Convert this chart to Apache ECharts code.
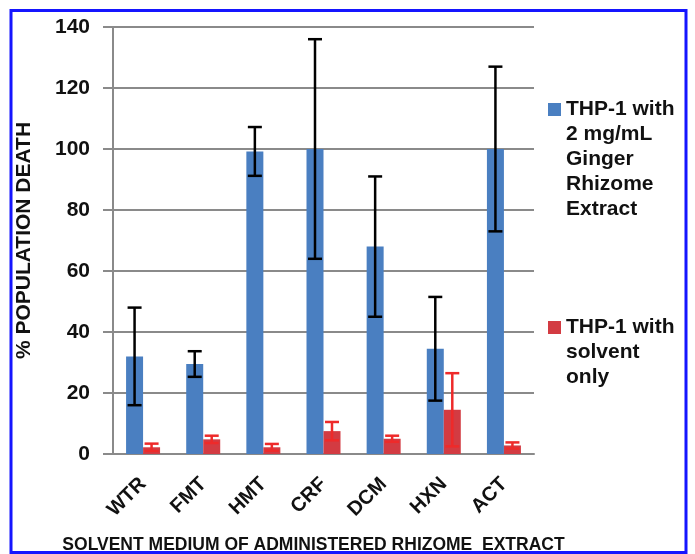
<!DOCTYPE html>
<html>
<head>
<meta charset="utf-8">
<script src="https://cdn.jsdelivr.net/npm/echarts@6/dist/echarts.min.js"></script>
<style>
  html, body { margin: 0; padding: 0; background: #fff; }
  #tu1 { width: 695px; height: 554px; }
</style>
</head>
<body>
<div id="tu1"></div>
<script>
// categories (solvent media) and values
var categories = ['WTR', 'FMT', 'HMT', 'CRF', 'DCM', 'HXN', 'ACT'];
var extractMean = [32, 29.5, 99.2, 100, 68, 34.5, 100];
var extractErr = [16, 4.2, 8, 36, 23, 17, 27];
var solventMean = [2.2, 4.8, 2.2, 7.5, 5, 14.5, 2.8];
var solventErr = [1.2, 1.2, 1.1, 3, 1, 12, 1];
var yTicks = [0, 20, 40, 60, 80, 100, 120, 140];

var nameExtract = 'THP-1 with\n2 mg/mL\nGinger\nRhizome\nExtract';
var nameSolvent = 'THP-1 with\nsolvent\nonly';

var font = 'Liberation Sans, Arial, sans-serif';
var barW = 17;

function errorBars(name, means, errs, color, shift) {
    return {
        type: 'custom',
        name: name,
        z: 10,
        silent: true,
        data: means.map(function (m, i) { return [i, m - errs[i], m + errs[i]]; }),
        encode: { x: 0, y: [1, 2] },
        renderItem: function (params, api) {
            var lo = api.coord([api.value(0), api.value(1)]);
            var hi = api.coord([api.value(0), api.value(2)]);
            var cx = lo[0] + shift;
            var half = 7;
            var st = { stroke: color, lineWidth: 2.5 };
            return {
                type: 'group',
                children: [
                    { type: 'line', shape: { x1: cx, y1: hi[1], x2: cx, y2: lo[1] }, style: st },
                    { type: 'line', shape: { x1: cx - half, y1: hi[1], x2: cx + half, y2: hi[1] }, style: st },
                    { type: 'line', shape: { x1: cx - half, y1: lo[1], x2: cx + half, y2: lo[1] }, style: st }
                ]
            };
        }
    };
}

var myChart1 = echarts.init(document.getElementById('tu1'));

var option1 = {
    animation: false,
    grid: { left: 113, right: 161, top: 27, bottom: 100, containLabel: false, outerBoundsMode: 'none' },
    legend: {
        data: [nameExtract, nameSolvent],
        orient: 'vertical',
        left: 548,
        top: -3,
        padding: 0,
        icon: 'rect',
        itemWidth: 13,
        itemHeight: 13,
        itemGap: 43,
        formatter: function (name) {
            var n = name.split('\n').length;
            return new Array(n).join('\n') + name;
        },
        textStyle: { fontFamily: font, fontWeight: 'bold', fontSize: 21, lineHeight: 25, color: '#111' }
    },
    xAxis: {
        type: 'category',
        data: categories,
        name: 'SOLVENT MEDIUM OF ADMINISTERED RHIZOME  EXTRACT',
        nameLocation: 'middle',
        nameGap: 82,
        nameTextStyle: { fontFamily: font, fontWeight: 'bold', fontSize: 17.5, color: '#111', padding: [0, 20, 0, 0] },
        axisLine: { lineStyle: { color: '#8a8a8a', width: 2 } },
        axisTick: { length: 8, lineStyle: { color: '#8a8a8a', width: 2 } },
        axisLabel: { rotate: 45, interval: 0, margin: 27, fontFamily: font, fontWeight: 'bold', fontSize: 20, color: '#111' }
    },
    yAxis: {
        type: 'value',
        min: yTicks[0],
        max: yTicks[yTicks.length - 1],
        interval: 20,
        name: '% POPULATION DEATH',
        nameLocation: 'middle',
        nameGap: 78,
        nameTextStyle: { fontFamily: font, fontWeight: 'bold', fontSize: 21, color: '#111' },
        axisLine: { show: true, lineStyle: { color: '#8a8a8a', width: 2 } },
        axisTick: { show: true, length: 10, lineStyle: { color: '#8a8a8a', width: 2 } },
        splitLine: { lineStyle: { color: '#8a8a8a', width: 2 } },
        axisLabel: { margin: 23, fontFamily: font, fontWeight: 'bold', fontSize: 21, color: '#111' }
    },
    series: [
        {
            name: nameExtract,
            type: 'bar',
            data: extractMean,
            barWidth: barW,
            barGap: '0%',
            itemStyle: { color: '#4a7fc1' }
        },
        {
            name: nameSolvent,
            type: 'bar',
            data: solventMean,
            barWidth: barW,
            barGap: '0%',
            itemStyle: { color: '#d33b42' }
        },
        errorBars('extract error', extractMean, extractErr, '#000', -barW / 2),
        errorBars('solvent error', solventMean, solventErr, '#ee2a2a', barW / 2)
    ],
    graphic: [{
        type: 'rect',
        z: 100,
        silent: true,
        shape: { x: 11, y: 10.5, width: 675, height: 542 },
        style: { fill: 'none', stroke: '#1515ff', lineWidth: 3 }
    }]
};
myChart1.setOption(option1);
</script>
</body>
</html>
